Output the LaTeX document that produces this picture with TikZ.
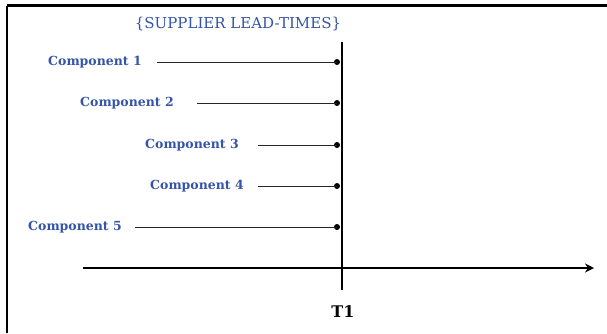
\documentclass[tikz,border=0pt]{standalone}
\usepackage{fontspec}
\setmainfont{DejaVu Serif}
\usetikzlibrary{arrows.meta}
\definecolor{lblue}{RGB}{52,84,168}
\tikzset{
  comp/.style={font=\bfseries\fontsize{12.5}{14}\selectfont, text=lblue, inner sep=0pt},
  lead/.style={line width=1pt, draw=black!85},
  leaddot/.style={circle, fill=black, inner sep=0pt, minimum size=6pt},
  axis/.style={line width=2.8pt, draw=black}
}
\begin{document}
\begin{tikzpicture}[x=1pt,y=-1pt]
\useasboundingbox (0,0) rectangle (607,333);
% frame
\draw[line width=2.8pt] (7,5.5) -- (607,5.5);
\draw[line width=2.8pt] (7,5.5) -- (7,333);
% title
\node[font=\fontsize{15}{17}\selectfont, text=lblue, inner sep=0pt] (title) at (238,24) {\{SUPPLIER LEAD-TIMES\}};
% axes
\coordinate (vtop) at (342,42);
\coordinate (vbot) at (342,290);
\coordinate (hl) at (83,268);
\coordinate (hr) at (594,268);
\draw[axis] (vtop) -- (vbot);
\draw[axis, -{Stealth[length=9pt,width=9pt]}] (hl) -- (hr);
\node[font=\bfseries\fontsize{16}{18}\selectfont, inner sep=0pt] (t1) at (343,312) {T1};
% components
\foreach \i/\tx/\ls/\y in {1/95/157/62, 2/127/197/103, 3/192/258/145, 4/197/258/186, 5/75/135/227}{
  \node[comp] (c\i) at (\tx,\y) {Component \i};
  \coordinate (s\i) at (\ls,\y);
  \node[leaddot] (d\i) at (337,\y) {};
  \draw[lead] (s\i) -- (d\i.center);
}
\end{tikzpicture}
\end{document}
